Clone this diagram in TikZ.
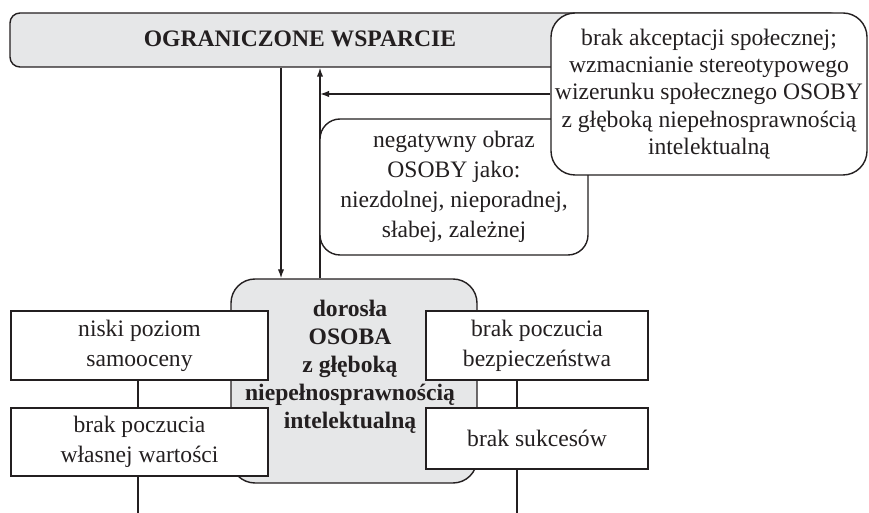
\documentclass[tikz,border=0pt]{standalone}
\usepackage{fontspec}
\setmainfont{Liberation Serif}
\usetikzlibrary{arrows.meta,calc}
\definecolor{boxgray}{HTML}{E6E7E8}
\definecolor{ink}{HTML}{231F20}
\begin{document}
\begin{tikzpicture}[x=0.5pt,y=-0.5pt,
  txt/.style={font=\fontsize{11.8}{15}\selectfont, text=ink, align=center},
  boldtxt/.style={font=\fontsize{11.8}{14}\selectfont\bfseries, text=ink, align=center},
  box/.style={draw=ink, line width=0.7pt, fill=white, inner sep=0pt, txt},
  conn/.style={draw=ink, line width=0.7pt},
  arr/.style={conn, -{Latex[length=4.5pt,width=3.2pt]}}]
\useasboundingbox (0,0) rectangle (869,513);
% helper coordinates
\coordinate (dx) at (281,0);
\coordinate (ux) at (320,0);
\coordinate (lx) at (138,0);
\coordinate (rx) at (517,0);
\coordinate (bottom) at (0,513);
% top bar
\node[box, rounded corners=5pt, fill=boxgray, minimum width=415pt, minimum height=27pt] (bar) at (425,40) {};
\node[boldtxt] (bartxt) at (300,39) {OGRANICZONE WSPARCIE};
% centre box
\node[box, rounded corners=12pt, fill=boxgray, minimum width=123pt, minimum height=102pt] (osoba) at (354,381) {};
\node[boldtxt] (osobatxt) at (350,367) {dorosła\\OSOBA\\z głęboką\\niepełnosprawnością\\intelektualną};
% vertical arrows
\draw[arr] (bar.south -| dx) -- (osoba.north -| dx);
\draw[arr] (osoba.north -| ux) -- (bar.south -| ux);
% negative image box
\node[box, rounded corners=10pt, minimum width=134pt, minimum height=68pt] (neg) at (454,187) {negatywny obraz\\OSOBY jako:\\niezdolnej, nieporadnej,\\słabej, zależnej};
% social acceptance box
\node[box, rounded corners=12pt, minimum width=158pt, minimum height=81pt, font=\fontsize{11.8}{13.6}\selectfont] (akc) at (709,94) {brak akceptacji społecznej;\\wzmacnianie stereotypowego\\wizerunku społecznego OSOBY\\z głęboką niepełnosprawnością\\intelektualną};
\draw[arr] (akc.west) -- (akc.west -| ux);
% side lines
\draw[conn] (lx |- 0,380) -- (lx |- 0,408);
\draw[conn] (lx |- 0,476) -- (lx |- bottom);
\draw[conn] (rx |- 0,380) -- (rx |- 0,408);
\draw[conn] (rx |- 0,469) -- (rx |- bottom);
% left boxes
\node[box, minimum width=128.5pt, minimum height=34.5pt] (l1) at (139.5,345.5) {niski poziom\\samooceny};
\node[box, minimum width=128.5pt, minimum height=34pt] (l2) at (139.5,442) {brak poczucia\\własnej wartości};
% right boxes
\node[box, minimum width=111pt, minimum height=34.5pt] (r1) at (537,345.5) {brak poczucia\\bezpieczeństwa};
\node[box, minimum width=111pt, minimum height=30.5pt] (r2) at (537,438.5) {brak sukcesów};
\end{tikzpicture}
\end{document}
